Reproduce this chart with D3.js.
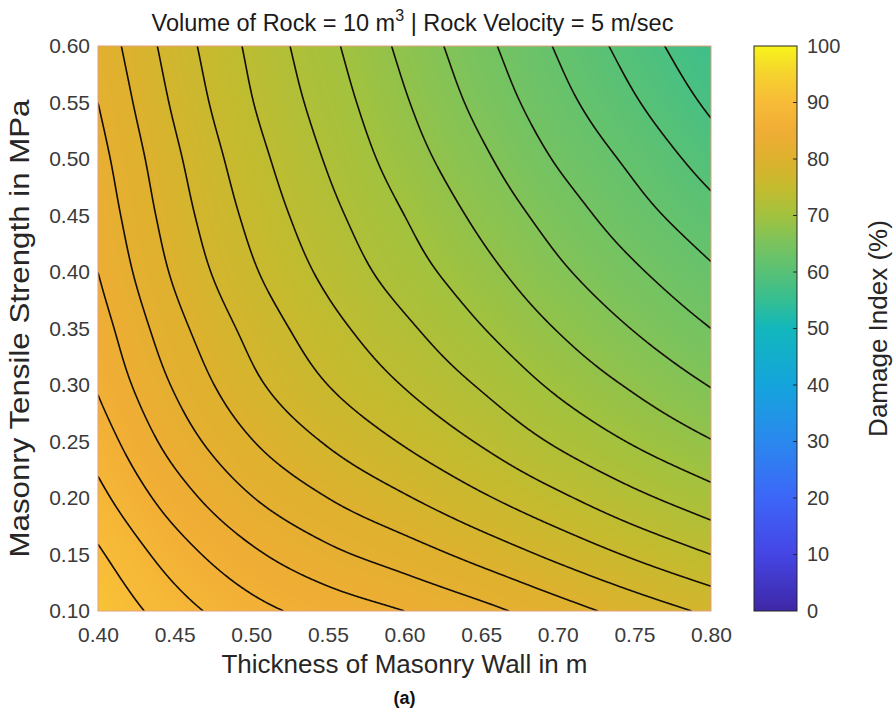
<!DOCTYPE html>
<html>
<head>
<meta charset="utf-8">
<script src="https://cdn.jsdelivr.net/npm/d3@7"></script>
<style>
  body { margin: 0; background: #fff; }
  svg text { font-family: "Liberation Sans", Arial, sans-serif; }
</style>
</head>
<body>
<svg id="chart" width="894" height="716"></svg>
<script>
// Wall thickness (m) along x, masonry tensile strength (MPa) along y
const thickness = [0.40, 0.45, 0.50, 0.55, 0.60, 0.65, 0.70, 0.75, 0.80];
const strength = [0.10, 0.15, 0.20, 0.25, 0.30, 0.35, 0.40, 0.45, 0.50, 0.55, 0.60];

// Damage index (%) — one row per strength value, one column per thickness value
const damageIndex = [
  [91.8, 88.9, 86.7, 85.2, 84.0, 82.6, 80.9, 79.2, 77.6],
  [90.3, 87.0, 84.4, 82.5, 81.0, 79.3, 77.5, 75.7, 74.0],
  [88.6, 85.0, 82.1, 80.0, 78.2, 76.3, 74.4, 72.5, 70.8],
  [87.1, 83.2, 80.1, 77.8, 75.8, 73.8, 71.7, 69.8, 68.1],
  [85.8, 81.8, 78.5, 76.0, 73.9, 71.8, 69.6, 67.7, 65.9],
  [84.9, 80.7, 77.4, 74.7, 72.4, 70.1, 67.9, 65.9, 64.0],
  [84.0, 79.7, 76.3, 73.5, 71.0, 68.7, 66.4, 64.3, 62.3],
  [83.3, 79.0, 75.5, 72.6, 70.0, 67.5, 65.1, 62.8, 60.7],
  [82.7, 78.4, 74.8, 71.8, 69.0, 66.4, 63.8, 61.5, 59.1],
  [82.0, 77.7, 74.1, 71.1, 68.2, 65.4, 62.7, 60.2, 57.6],
  [81.3, 77.1, 73.6, 70.5, 67.5, 64.6, 61.8, 59.1, 56.3]
];

// Isoline levels (%)
const contourLevels = [58, 60, 62, 64, 66, 68, 70, 72, 74, 76, 78, 80, 82, 84, 86, 88, 90];

// Axis tick values
const xTicks = [0.40, 0.45, 0.50, 0.55, 0.60, 0.65, 0.70, 0.75, 0.80];
const yTicks = [0.10, 0.15, 0.20, 0.25, 0.30, 0.35, 0.40, 0.45, 0.50, 0.55, 0.60];
const cbTicks = [0, 10, 20, 30, 40, 50, 60, 70, 80, 90, 100];

// Parula-like colour map stops
const cmapValues = [0, 10, 20, 30, 40, 50, 55, 60, 65, 70, 75, 80, 85, 90, 95, 100];
const cmapColors = ["#3e27a6", "#4545e4", "#3d66f8", "#2a88ee", "#14a4dc", "#12b7bc",
  "#35be92", "#58c176", "#7ac35e", "#a2c23e", "#c4bb2e", "#deb12e", "#f0ad35",
  "#f8bb38", "#f5d22e", "#f7f41a"];

const svg = d3.select("#chart");
const x0 = 98, x1 = 711, y0 = 46, y1 = 611;
const W = x1 - x0, H = y1 - y0;

const xScale = d3.scaleLinear().domain([0.40, 0.80]).range([x0, x1]);
const yScale = d3.scaleLinear().domain([0.10, 0.60]).range([y1, y0]);
const color = d3.scaleLinear().domain(cmapValues).range(cmapColors)
  .interpolate(d3.interpolateRgb).clamp(true);

// Smooth bicubic (Catmull-Rom) evaluation of the gridded values
const nI = thickness.length, nJ = strength.length;
function gridAt(i, j) {
  // linear extrapolation for ghost nodes just outside the grid
  if (i < 0) return 2 * gridAt(0, j) - gridAt(1, j);
  if (i > nI - 1) return 2 * gridAt(nI - 1, j) - gridAt(nI - 2, j);
  if (j < 0) return 2 * gridAt(i, 0) - gridAt(i, 1);
  if (j > nJ - 1) return 2 * gridAt(i, nJ - 1) - gridAt(i, nJ - 2);
  return damageIndex[j][i];
}
function cr(p0, p1, p2, p3, t) {
  return 0.5 * (2 * p1 + (-p0 + p2) * t + (2 * p0 - 5 * p1 + 4 * p2 - p3) * t * t +
    (-p0 + 3 * p1 - 3 * p2 + p3) * t * t * t);
}
const tStep = thickness[1] - thickness[0], sStep = strength[1] - strength[0];
function field(t, s) {
  t = Math.max(thickness[0], Math.min(thickness[nI - 1], t));
  s = Math.max(strength[0], Math.min(strength[nJ - 1], s));
  const fi = (t - thickness[0]) / tStep, fj = (s - strength[0]) / sStep;
  const i = Math.min(nI - 2, Math.floor(fi)), j = Math.min(nJ - 2, Math.floor(fj));
  const tx = fi - i, ty = fj - j;
  const rows = [];
  for (let k = -1; k <= 2; k++) {
    rows.push(cr(gridAt(i - 1, j + k), gridAt(i, j + k), gridAt(i + 1, j + k), gridAt(i + 2, j + k), tx));
  }
  return cr(rows[0], rows[1], rows[2], rows[3], ty);
}

// Sample the surface on a pixel grid slightly larger than the plot area
const pad = 4;
const nx = W + 2 * pad, ny = H + 2 * pad;
const values = new Float64Array(nx * ny);
for (let gy = 0; gy < ny; gy++) {
  const s = yScale.invert(y0 - pad + gy + 0.5);
  for (let gx = 0; gx < nx; gx++) {
    const t = xScale.invert(x0 - pad + gx + 0.5);
    values[gy * nx + gx] = field(t, s);
  }
}

// Interpolated colour surface
const canvas = document.createElement("canvas");
canvas.width = W; canvas.height = H;
const ctx = canvas.getContext("2d");
const img = ctx.createImageData(W, H);
for (let py = 0; py < H; py++) {
  for (let px = 0; px < W; px++) {
    const v = values[(py + pad) * nx + (px + pad)];
    const c = d3.rgb(color(v));
    const k = (py * W + px) * 4;
    img.data[k] = c.r; img.data[k + 1] = c.g; img.data[k + 2] = c.b; img.data[k + 3] = 255;
  }
}
ctx.putImageData(img, 0, 0);

const defs = svg.append("defs");
defs.append("clipPath").attr("id", "plotClip")
  .append("rect").attr("x", x0).attr("y", y0).attr("width", W).attr("height", H);

svg.append("image")
  .attr("x", x0).attr("y", y0).attr("width", W).attr("height", H)
  .attr("preserveAspectRatio", "none")
  .attr("href", canvas.toDataURL());

// Isolines
const contours = d3.contours().size([nx, ny]).thresholds(contourLevels)(Array.from(values));
const path = d3.geoPath(d3.geoIdentity().translate([x0 - pad, y0 - pad]));
svg.append("g").attr("clip-path", "url(#plotClip)")
  .selectAll("path").data(contours).join("path")
  .attr("d", path)
  .attr("fill", "none")
  .attr("stroke", "#140e06")
  .attr("stroke-width", 1.6)
  .attr("stroke-linejoin", "round");

// Plot frame
svg.append("rect").attr("x", x0).attr("y", y0).attr("width", W).attr("height", H)
  .attr("fill", "none").attr("stroke", "#e3a07e").attr("stroke-width", 1);

// Axes
const xAxis = svg.append("g").attr("transform", `translate(0,${y1})`)
  .call(d3.axisBottom(xScale).tickValues(xTicks).tickFormat(d3.format(".2f")).tickSize(0).tickPadding(16));
const yAxis = svg.append("g").attr("transform", `translate(${x0},0)`)
  .call(d3.axisLeft(yScale).tickValues(yTicks).tickFormat(d3.format(".2f")).tickSize(0).tickPadding(8));
[xAxis, yAxis].forEach(g => {
  g.select(".domain").remove();
  g.selectAll("text").attr("font-size", 21).attr("fill", "#3a3a3a")
    .attr("font-family", "'Liberation Sans', Arial, sans-serif");
});

// Title with superscript
const title = svg.append("text").attr("x", (x0 + x1) / 2 + 8).attr("y", 31)
  .attr("text-anchor", "middle").attr("font-size", 23.5).attr("fill", "#1a1a1a");
title.append("tspan").text("Volume of Rock = 10 m");
title.append("tspan").attr("dy", -10).attr("font-size", 16).text("3");
title.append("tspan").attr("dy", 10).text(" | Rock Velocity = 5 m/sec");

// Axis labels
svg.append("text").attr("x", (x0 + x1) / 2).attr("y", 673)
  .attr("text-anchor", "middle").attr("font-size", 26).attr("fill", "#262626")
  .text("Thickness of Masonry Wall in m");
svg.append("text").attr("transform", `translate(29,${(y0 + y1) / 2}) rotate(-90)`)
  .attr("text-anchor", "middle").attr("font-size", 27).attr("fill", "#262626")
  .attr("textLength", 458).attr("lengthAdjust", "spacingAndGlyphs")
  .text("Masonry Tensile Strength in MPa");

// Colour bar
const cbx0 = 754, cbx1 = 797;
const cbScale = d3.scaleLinear().domain([0, 100]).range([y1, y0]);
const grad = defs.append("linearGradient").attr("id", "cbGrad")
  .attr("x1", 0).attr("y1", 1).attr("x2", 0).attr("y2", 0);
grad.selectAll("stop").data(cmapValues).join("stop")
  .attr("offset", d => d / 100)
  .attr("stop-color", (d, i) => cmapColors[i]);
svg.append("rect").attr("x", cbx0).attr("y", y0).attr("width", cbx1 - cbx0).attr("height", H)
  .attr("fill", "url(#cbGrad)").attr("stroke", "#262626").attr("stroke-width", 1);
svg.append("g").selectAll("line").data(cbTicks.slice(1, -1)).join("line")
  .attr("x1", cbx1 - 4).attr("x2", cbx1)
  .attr("y1", d => cbScale(d)).attr("y2", d => cbScale(d))
  .attr("stroke", "#262626").attr("stroke-width", 1);
const cbAxis = svg.append("g").attr("transform", `translate(${cbx1},0)`)
  .call(d3.axisRight(cbScale).tickValues(cbTicks).tickSize(0).tickPadding(10));
cbAxis.select(".domain").remove();
cbAxis.selectAll("text").attr("font-size", 20).attr("fill", "#3a3a3a")
  .attr("font-family", "'Liberation Sans', Arial, sans-serif");
svg.append("text").attr("transform", `translate(887,${(y0 + y1) / 2}) rotate(-90)`)
  .attr("text-anchor", "middle").attr("font-size", 26).attr("fill", "#262626")
  .text("Damage Index (%)");

// Panel label
svg.append("text").attr("x", (x0 + x1) / 2).attr("y", 704)
  .attr("text-anchor", "middle").attr("font-size", 18).attr("font-weight", "bold")
  .attr("font-family", "'Liberation Serif', 'DejaVu Serif', serif").attr("fill", "#111")
  .text("(a)");
</script>
</body>
</html>
